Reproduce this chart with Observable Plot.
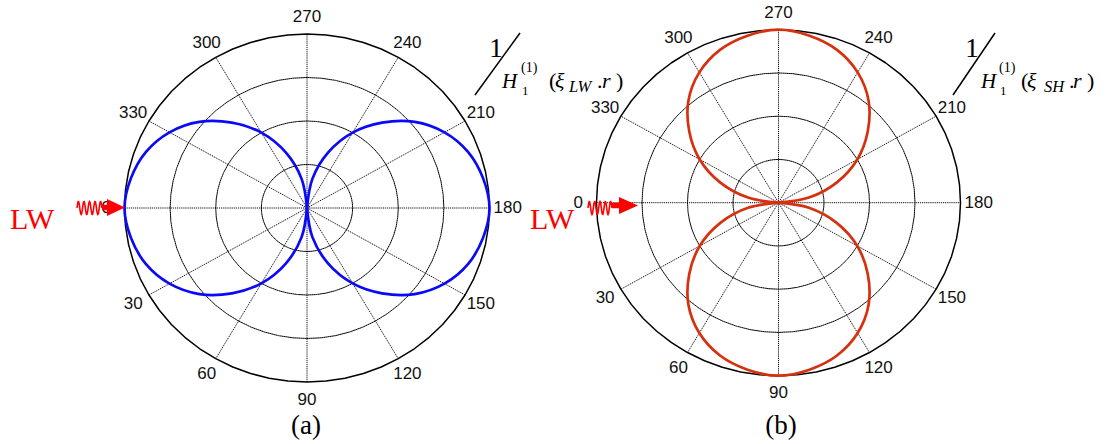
<!DOCTYPE html>
<html>
<head>
<meta charset="utf-8">
<script src="https://cdn.jsdelivr.net/npm/d3@7"></script>
<script src="https://cdn.jsdelivr.net/npm/@observablehq/plot@0.6"></script>
<style>
  html, body { margin: 0; padding: 0; background: #fff; }
  #wrap { position: relative; width: 1105px; height: 444px; overflow: hidden; background: #fff; }
  #wrap svg { position: absolute; left: 0; top: 0; }
</style>
</head>
<body>
<div id="wrap"></div>
<script>
// ---- data ----
const angles = [0,10,20,30,40,50,60,70,80,90,100,110,120,130,140,150,160,170,180,190,200,210,220,230,240,250,260,270,280,290,300,310,320,330,340,350];
// (a) normalised 1/H1(xi_LW r) pattern
const lwResponse = [1.00,0.98,0.94,0.87,0.77,0.64,0.50,0.34,0.17,0.00,0.17,0.34,0.50,0.64,0.77,0.87,0.94,0.98,1.00,0.98,0.94,0.87,0.77,0.64,0.50,0.34,0.17,0.00,0.17,0.34,0.50,0.64,0.77,0.87,0.94,0.98];
// (b) normalised 1/H1(xi_SH r) pattern
const shResponse = [0.00,0.17,0.34,0.50,0.64,0.77,0.87,0.94,0.98,1.00,0.98,0.94,0.87,0.77,0.64,0.50,0.34,0.17,0.00,0.17,0.34,0.50,0.64,0.77,0.87,0.94,0.98,1.00,0.98,0.94,0.87,0.77,0.64,0.50,0.34,0.17];
const tickAngles = [0,30,60,90,120,150,180,210,240,270,300,330];
const ringRadii = [0.25,0.5,0.75];
const outerRadius = [1];
const panelCaptions = ["(a)", "(b)"];
const waveSubscripts = ["LW", "SH"];
const incidentLabel = "LW";

// ---- helpers ----
const rad = d => d * Math.PI / 180;
const px = (r, a) => -r * Math.cos(rad(a));
const py = (r, a) => -r * Math.sin(rad(a));

function lobes(vals) {
  const n = vals.length;
  const start = vals.indexOf(0);
  const pts = [];
  let lobe = 0;
  for (let k = 0; k <= n; k++) {
    const i = (start + k) % n;
    const p = {x: px(vals[i], angles[i]), y: py(vals[i], angles[i]), lobe};
    pts.push(p);
    if (k > 0 && k < n && vals[i] === 0) { lobe++; pts.push({...p, lobe}); }
  }
  return pts;
}
function ringPoints(radii) {
  const out = [];
  for (const r of radii) for (let a = 0; a <= 360; a += 6) out.push({x: px(r, a), y: py(r, a), r});
  return out;
}

const panels = [
  {cx: 306.5, cy: 207.5, rx: 182.5, ry: 174, values: lwResponse, color: "#0a0af8", caption: panelCaptions[0], capX: 306, sub: waveSubscripts[0],
   slash: [475, 95, 520, 33], one: 496, H: 502, sup: 521, lp: 549, xi: 555, subX: 569, dot: 597, r: 602, rp: 616,
   lw: 10, wave: [77, 102, 208], head: [107, 125, 207.5]},
  {cx: 778, cy: 202.2, rx: 182, ry: 173, values: shResponse, color: "#d6300e", caption: panelCaptions[1], capX: 781, sub: waveSubscripts[1],
   slash: [953, 95, 995, 33], one: 972, H: 981, sup: 999, lp: 1021, xi: 1027, subX: 1044, dot: 1069, r: 1073, rp: 1087,
   lw: 530, wave: [588, 612, 208], head: [619, 638, 205.5]}
];

const wrap = document.getElementById("wrap");
const serif = "'Liberation Serif', 'Times New Roman', serif";
const sans = "'Liberation Sans', Arial, sans-serif";

for (const P of panels) {
  const svg = Plot.plot({
    width: 1105, height: 444,
    style: {background: "transparent", overflow: "visible"},
    x: {domain: [-1, 1], range: [P.cx - P.rx, P.cx + P.rx], axis: null},
    y: {domain: [-1, 1], range: [P.cy + P.ry, P.cy - P.ry], axis: null},
    marks: [
      Plot.line(ringPoints(ringRadii), {x: "x", y: "y", z: "r", stroke: "#000", strokeWidth: 1, strokeDasharray: "1.2,0.9"}),
      Plot.link(tickAngles.filter(a => a < 180), {
        x1: a => px(1, a), y1: a => py(1, a), x2: a => px(1, a + 180), y2: a => py(1, a + 180),
        stroke: "#000", strokeWidth: 0.95, strokeDasharray: "1.2,0.9"}),
      Plot.line(ringPoints(outerRadius), {x: "x", y: "y", z: "r", stroke: "#000", strokeWidth: 1.5}),
      Plot.line(lobes(P.values), {x: "x", y: "y", z: "lobe", curve: "catmull-rom", stroke: P.color, strokeWidth: 2.7}),
      Plot.text(tickAngles, {x: a => px(1.1, a), y: a => py(1.1, a), text: a => String(a),
        fontSize: 17, fontFamily: sans, fill: "#111"})
    ]
  });
  wrap.appendChild(svg);

  const s = d3.select(svg);
  const g = s.append("g").attr("text-anchor", "start").attr("font-family", serif);
  // caption
  g.append("text").attr("x", P.capX).attr("y", 434).attr("text-anchor", "middle")
    .attr("font-size", 27).attr("fill", "#000").text(P.caption);
  // incident wave label
  g.append("text").attr("x", P.lw).attr("y", 229).attr("font-size", 30)
    .attr("fill", "#ff0000").text(incidentLabel);
  // wavy arrow
  const [w0, w1, wy] = P.wave;
  const cycles = 4.5, amp = 6.5;
  let d = "";
  for (let k = 0; k <= 60; k++) {
    const t = k / 60;
    const xx = w0 + t * (w1 - w0), yy = wy - amp * Math.sin(t * cycles * 2 * Math.PI);
    d += (k ? "L" : "M") + xx.toFixed(2) + "," + yy.toFixed(2);
  }
  g.append("path").attr("d", d).attr("fill", "none").attr("stroke", "#ff0000").attr("stroke-width", 1.6);
  const [h0, h1, hy] = P.head;
  g.append("line").attr("x1", w1).attr("x2", h0 + 4).attr("y1", hy).attr("y2", hy)
    .attr("stroke", "#ff0000").attr("stroke-width", 5.5);
  g.append("path").attr("d", `M${h0},${hy - 8.5}L${h1},${hy}L${h0},${hy + 8.5}Z`).attr("fill", "#ff0000");

  // 1 / H1(1)(xi .r) annotation
  const [a0, b0, a1, b1] = P.slash;
  g.append("line").attr("x1", a0).attr("y1", b0).attr("x2", a1).attr("y2", b1).attr("stroke", "#000").attr("stroke-width", 1.5);
  const t = (x, y, size, txt, italic) => g.append("text").attr("x", x).attr("y", y)
    .attr("font-size", size).attr("font-style", italic ? "italic" : "normal")
    .attr("text-anchor", "start").attr("fill", "#000").text(txt);
  t(P.one, 57, 27, "1").attr("text-anchor", "middle");
  t(P.H, 88, 21, "H", true);
  t(P.sup, 72, 14, "(1)");
  t(P.sup + 1, 95, 13, "1");
  t(P.lp, 88, 22, "(");
  t(P.xi, 88, 22, "\u03BE", true);
  t(P.subX, 92, 16.5, P.sub, true);
  t(P.dot, 88, 22, ".");
  t(P.r, 88, 22, "r", true);
  t(P.rp, 88, 22, ")");
}
</script>
</body>
</html>
